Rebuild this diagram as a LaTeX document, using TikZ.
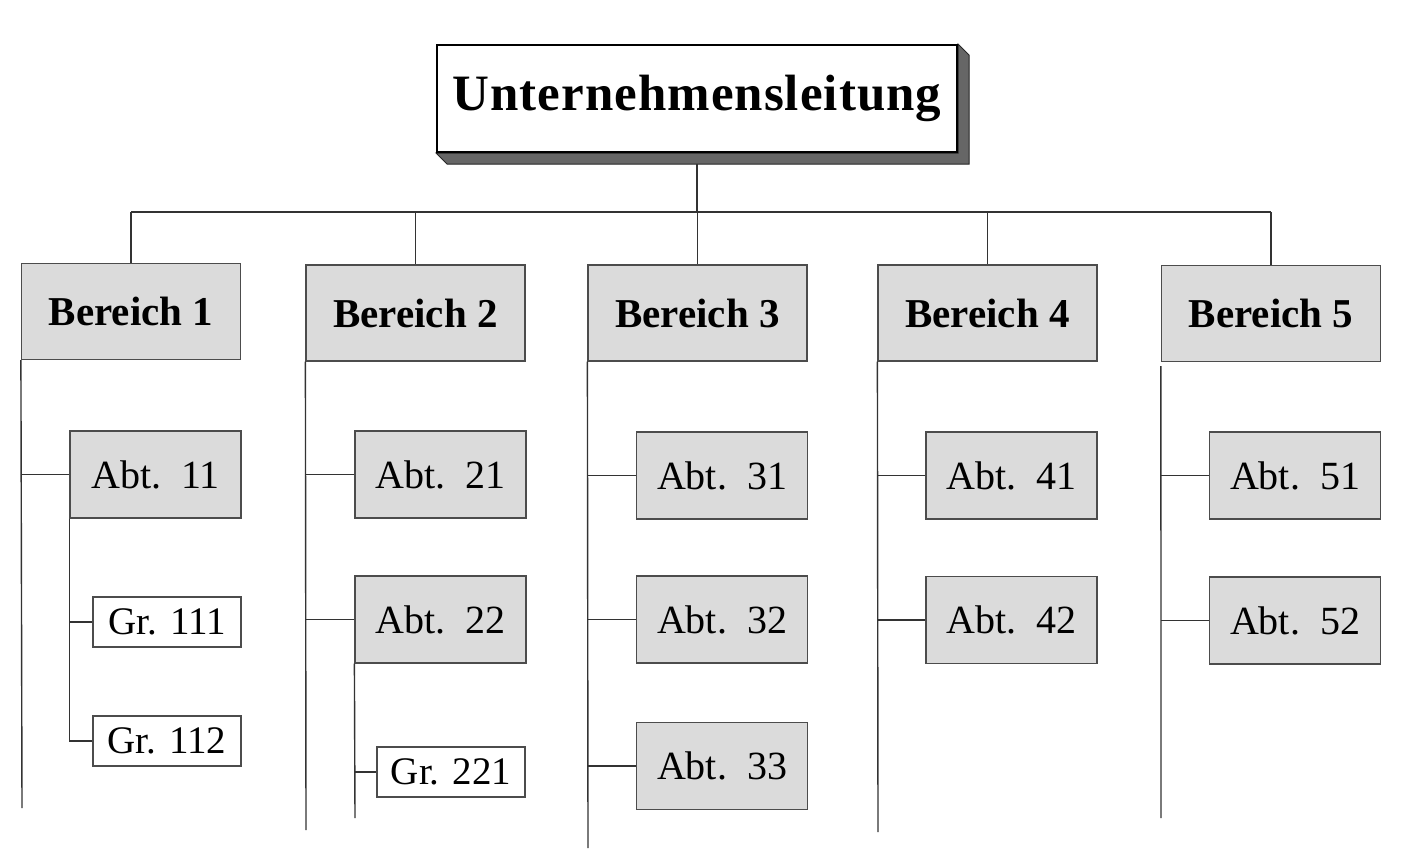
\documentclass[tikz,border=0pt]{standalone}
\usepackage{fontspec}
\setmainfont{Liberation Serif}
\begin{document}
\begin{tikzpicture}[x=0.5pt,y=-0.5pt,
  line/.style={draw=black!80,line width=0.7pt},
  boxbase/.style={draw=black!70,line width=0.6pt,inner sep=0pt,anchor=center},
  bereich/.style={boxbase,fill=black!14,minimum width=109.5pt,minimum height=48pt,font=\fontsize{20.5}{24}\selectfont\bfseries},
  abt/.style={boxbase,fill=black!14,minimum width=85.5pt,minimum height=43.5pt,font=\fontsize{20}{24}\selectfont},
  grp/.style={boxbase,fill=white,minimum width=74pt,minimum height=25pt,font=\fontsize{19.5}{22}\selectfont},
  topbox/.style={draw=black,line width=1pt,fill=white,inner sep=0pt,minimum width=260pt,minimum height=53.5pt,font=\fontsize{25.5}{30}\selectfont\bfseries\addfontfeature{LetterSpace=2}},
  shade/.style={fill=black!60,draw=black!85,line width=0.5pt}
]
\useasboundingbox (0,0) rectangle (1403,857);

% top box with 3D shadow
\node[topbox] (top) at (697,98.5) {Unternehmensleitung};
\fill[shade] (top.south west) -- (top.south east) -- (top.north east)
  -- ([shift={(11,11)}]top.north east) -- ([shift={(11,11)}]top.south east)
  -- ([shift={(11,11)}]top.south west) -- cycle;
\node[topbox] at (top) {Unternehmensleitung};
\coordinate (topfoot) at ([shift={(0,11)}]top.south);

% Bereich boxes
\node[bereich] (b1) at (131,311.5) {Bereich 1};
\node[bereich] (b2) at (415.5,313) {Bereich 2};
\node[bereich] (b3) at (697.5,313) {Bereich 3};
\node[bereich] (b4) at (987.5,313) {Bereich 4};
\node[bereich] (b5) at (1271,313.5) {Bereich 5};

% bus
\coordinate (bus) at (693,212);
\draw[line] (topfoot) -- (topfoot |- bus);
\draw[line] (b1.north |- bus) -- (b5.north |- bus);
\foreach \b in {b1,b2,b3,b4,b5} {\draw[line] (\b.north |- bus) -- (\b.north);}

% Abteilungen
\node[abt] (a11) at (155.5,474.5) {Abt.\ \ 11};
\node[abt] (a21) at (440.5,474.5) {Abt.\ \ 21};
\node[abt] (a31) at (722,475.5) {Abt.\ \ 31};
\node[abt] (a41) at (1011.5,475.5) {Abt.\ \ 41};
\node[abt] (a51) at (1295,475.5) {Abt.\ \ 51};
\node[abt] (a22) at (440.5,619.5) {Abt.\ \ 22};
\node[abt] (a32) at (722,619.5) {Abt.\ \ 32};
\node[abt] (a42) at (1011.5,620) {Abt.\ \ 42};
\node[abt] (a52) at (1295,620.5) {Abt.\ \ 52};
\node[abt] (a33) at (722,766) {Abt.\ \ 33};

% Gruppen
\node[grp] (g111) at (167,622) {Gr. 111};
\node[grp] (g112) at (167,741) {Gr. 112};
\node[grp] (g221) at (451,772) {Gr. 221};

% trunk ends
\coordinate (e1) at (22,808);
\coordinate (e2) at (306,830);
\coordinate (e3) at (588,848);
\coordinate (e4) at (878,832);
\coordinate (e5) at (1161,818);
\coordinate (e22) at (355,818);

\draw[line] (b1.south west) -- (e1);
\draw[line] (b2.south west) -- (e2);
\draw[line] (b3.south west) -- (e3);
\draw[line] (b4.south west) -- (e4);
\draw[line] ([shift={(0,4)}]b5.south west) -- (e5);

\draw[line] (b1.south west |- a11.west) -- (a11.west);
\draw[line] (b2.south west |- a21.west) -- (a21.west);
\draw[line] (b2.south west |- a22.west) -- (a22.west);
\draw[line] (b3.south west |- a31.west) -- (a31.west);
\draw[line] (b3.south west |- a32.west) -- (a32.west);
\draw[line] (b3.south west |- a33.west) -- (a33.west);
\draw[line] (b4.south west |- a41.west) -- (a41.west);
\draw[line] (b4.south west |- a42.west) -- (a42.west);
\draw[line] (b5.south west |- a51.west) -- (a51.west);
\draw[line] (b5.south west |- a52.west) -- (a52.west);

\draw[line] (a11.south west) |- (g112.west);
\draw[line] (a11.south west |- g111.west) -- (g111.west);
\draw[line] (a22.south west) -- (e22);
\draw[line] (a22.south west |- g221.west) -- (g221.west);
\end{tikzpicture}
\end{document}
